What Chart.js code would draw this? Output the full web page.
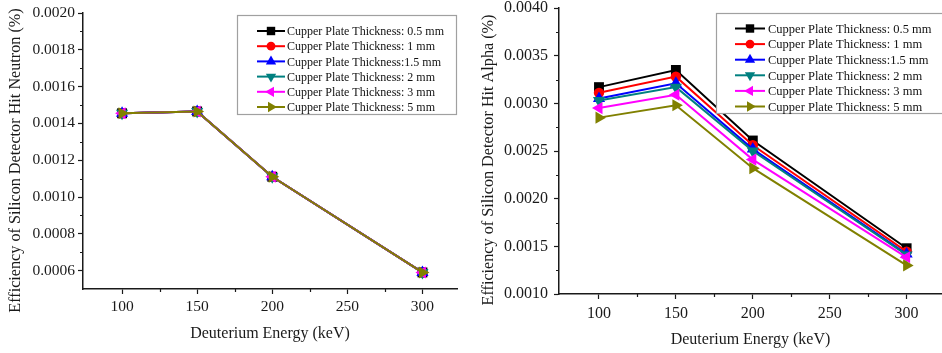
<!DOCTYPE html>
<html>
<head>
<meta charset="utf-8">
<title>Silicon detector hit efficiency</title>
<script src="https://cdn.jsdelivr.net/npm/chart.js@4.4.1/dist/chart.umd.min.js"></script>
<style>
  html, body { margin: 0; padding: 0; background: #fff; }
  .panel { position: absolute; top: 0; height: 353px; }
  #leftPanel  { left: 0;     width: 470px; }
  #rightPanel { left: 472px; width: 470px; }
</style>
</head>
<body>
<div class="panel" id="leftPanel"><canvas id="neutronChart"></canvas></div>
<div class="panel" id="rightPanel"><canvas id="alphaChart"></canvas></div>
<script>
// Deuterium energy (keV)
var energies = [100, 150, 200, 300];

var thicknessLabels = [
  'Cupper Plate Thickness: 0.5 mm',
  'Cupper Plate Thickness: 1 mm',
  'Cupper Plate Thickness:1.5 mm',
  'Cupper Plate Thickness: 2 mm',
  'Cupper Plate Thickness: 3 mm',
  'Cupper Plate Thickness: 5 mm'
];

// Neutron hit efficiency (%) per copper plate thickness
var neutron05 = [0.001455, 0.001465, 0.00111, 0.00059];
var neutron1  = [0.001455, 0.001465, 0.00111, 0.00059];
var neutron15 = [0.001455, 0.001465, 0.00111, 0.00059];
var neutron2  = [0.001455, 0.001465, 0.00111, 0.00059];
var neutron3  = [0.001455, 0.001465, 0.00111, 0.00059];
var neutron5  = [0.001455, 0.001465, 0.00111, 0.00059];

// Alpha hit efficiency (%) per copper plate thickness
var alpha05 = [0.00317, 0.00335, 0.00261, 0.00148];
var alpha1  = [0.00311, 0.00328, 0.00256, 0.001445];
var alpha15 = [0.00305, 0.00321, 0.00252, 0.00142];
var alpha2  = [0.00303, 0.00317, 0.00250, 0.00141];
var alpha3  = [0.00295, 0.00309, 0.00241, 0.001385];
var alpha5  = [0.00285, 0.00298, 0.00232, 0.00130];

// Tick values
var xTicks       = [100, 150, 200, 250, 300];
var xMinorTicks  = [125, 175, 225, 275];
var neutronTicks = [0.0006, 0.0008, 0.0010, 0.0012, 0.0014, 0.0016, 0.0018, 0.0020];
var neutronMinor = [0.0007, 0.0009, 0.0011, 0.0013, 0.0015, 0.0017, 0.0019];
var alphaTicks   = [0.0010, 0.0015, 0.0020, 0.0025, 0.0030, 0.0035, 0.0040];
var alphaMinor   = [0.00125, 0.00175, 0.00225, 0.00275, 0.00325, 0.00375];

var seriesColors = ['#000000', '#ff0000', '#0000ff', '#008080', '#ff00ff', '#808000'];
var markerStyles = ['rect', 'circle', 'triangle', 'triangle', 'triangle', 'triangle'];
var markerRotate = [0, 0, 0, 180, 270, 90];
var markerRadius = [7, 5.2, 7, 7, 7, 7];

var FONT = '"Liberation Serif", "Times New Roman", serif';
var AXIS = '#1a1a1a';

// Short outward ticks between the labelled ones
var minorTicks = {
  id: 'minorTicks',
  afterDraw: function(chart, args, o) {
    var ctx = chart.ctx, x = chart.scales.x, y = chart.scales.y;
    ctx.save();
    ctx.strokeStyle = AXIS;
    ctx.lineWidth = 1.2;
    ctx.beginPath();
    o.x.forEach(function(v) {
      var px = Math.round(x.getPixelForValue(v)) + 0.5;
      ctx.moveTo(px, x.top);
      ctx.lineTo(px, x.top + 3);
    });
    o.y.forEach(function(v) {
      var py = Math.round(y.getPixelForValue(v)) + 0.5;
      ctx.moveTo(y.right, py);
      ctx.lineTo(y.right - 3, py);
    });
    ctx.stroke();
    ctx.restore();
  }
};

// Rotated y-axis title, placed a little below the plot's centre
var yTitle = {
  id: 'yTitle',
  afterDraw: function(chart, args, o) {
    var ctx = chart.ctx;
    ctx.save();
    ctx.translate(o.x, o.y);
    ctx.rotate(-Math.PI / 2);
    ctx.font = o.fontSize + 'px ' + FONT;
    ctx.fillStyle = AXIS;
    ctx.textAlign = 'center';
    ctx.textBaseline = 'middle';
    ctx.fillText(o.text, 0, 0);
    ctx.restore();
  }
};

// Boxed legend with line + marker samples, drawn over the plot
var lineLegend = {
  id: 'lineLegend',
  afterDatasetsDraw: function(chart, args, o) {
    var ctx = chart.ctx;
    ctx.save();
    ctx.fillStyle = '#fff';
    ctx.fillRect(o.x, o.y, o.w, o.h);
    ctx.strokeStyle = '#a0a0a0';
    ctx.lineWidth = 1.2;
    ctx.strokeRect(o.x + 0.5, o.y + 0.5, o.w, o.h);
    ctx.font = o.fontSize + 'px ' + FONT;
    ctx.textBaseline = 'middle';
    ctx.textAlign = 'left';
    chart.data.datasets.forEach(function(ds, i) {
      var ry = o.firstRow + i * o.rowH;
      ctx.strokeStyle = ds.borderColor;
      ctx.lineWidth = 2;
      ctx.beginPath();
      ctx.moveTo(o.x0, ry);
      ctx.lineTo(o.x1, ry);
      ctx.stroke();
      ctx.fillStyle = ds.backgroundColor;
      Chart.helpers.drawPoint(ctx, {
        pointStyle: ds.pointStyle,
        rotation: ds.pointRotation,
        radius: ds.pointRadius * 0.85,
        borderWidth: 0
      }, (o.x0 + o.x1) / 2, ry);
      ctx.fillStyle = '#111';
      ctx.fillText(ds.label, o.textX, ry + 1);
    });
    ctx.restore();
  }
};

function makeDatasets(series) {
  return series.map(function(values, i) {
    return {
      label: thicknessLabels[i],
      data: energies.map(function(e, j) { return { x: e, y: values[j] }; }),
      borderColor: seriesColors[i],
      backgroundColor: seriesColors[i],
      borderWidth: 2,
      pointStyle: markerStyles[i],
      pointRotation: markerRotate[i],
      pointRadius: markerRadius[i],
      pointBorderWidth: 0,
      tension: 0,
      clip: false,
      order: series.length - i
    };
  });
}

function makeChart(canvasId, series, cfg) {
  new Chart(document.getElementById(canvasId), {
    type: 'line',
    data: { datasets: makeDatasets(series) },
    plugins: [minorTicks, yTitle, lineLegend],
    options: {
      responsive: true,
      maintainAspectRatio: false,
      animation: false,
      layout: { padding: cfg.padding, autoPadding: false },
      plugins: {
        legend: { display: false },
        tooltip: { enabled: false },
        minorTicks: { x: xMinorTicks, y: cfg.yMinor },
        yTitle: cfg.yTitle,
        lineLegend: cfg.legend
      },
      scales: {
        x: {
          type: 'linear',
          min: 74,
          max: 323,
          afterBuildTicks: function(s) { s.ticks = xTicks.map(function(v) { return { value: v }; }); },
          afterFit: function(s) { s.height = cfg.xHeight; s.paddingLeft = 0; s.paddingRight = 0; },
          ticks: {
            autoSkip: false,
            maxRotation: 0,
            padding: cfg.xTickPad,
            color: AXIS,
            font: { family: FONT, size: cfg.tickSize },
            callback: function(v) { return String(v); }
          },
          grid: { drawOnChartArea: false, tickLength: 5, tickWidth: 1.2, tickColor: AXIS },
          border: { color: AXIS, width: 1.5 },
          title: {
            display: true,
            text: 'Deuterium Energy (keV)',
            color: AXIS,
            font: { family: FONT, size: 16 },
            padding: { top: 4, bottom: cfg.xTitlePad }
          }
        },
        y: {
          min: cfg.yMin,
          max: cfg.yMax,
          afterBuildTicks: function(s) { s.ticks = cfg.yTicks.map(function(v) { return { value: v }; }); },
          afterFit: function(s) { s.width = cfg.yWidth; s.paddingTop = 0; s.paddingBottom = 0; },
          ticks: {
            padding: cfg.yTickPad,
            color: AXIS,
            font: { family: FONT, size: cfg.tickSize },
            callback: function(v) { return v.toFixed(4); }
          },
          grid: { drawOnChartArea: false, tickLength: 5, tickWidth: 1.2, tickColor: AXIS },
          border: { color: AXIS, width: 1.5 },
          title: { display: false }
        }
      }
    }
  });
}

makeChart('neutronChart',
  [neutron05, neutron1, neutron15, neutron2, neutron3, neutron5], {
    yTitle: { text: 'Efficiency of Silicon Detector Hit Neutron (%)', x: 16, y: 160.5, fontSize: 16.2 },
    yMin: 0.0005, yMax: 0.0020,
    yTicks: neutronTicks, yMinor: neutronMinor,
    padding: { top: 13, right: 13, bottom: 0, left: 0 },
    yWidth: 83, xHeight: 64,
    tickSize: 15.5, xTickPad: 4, yTickPad: 3, xTitlePad: 10,
    legend: { x: 237, y: 15, w: 219, h: 99, firstRow: 31, rowH: 15.2,
              x0: 257, x1: 285, textX: 287, fontSize: 12 }
  });

makeChart('alphaChart',
  [alpha05, alpha1, alpha15, alpha2, alpha3, alpha5], {
    yTitle: { text: 'Efficiency of Silicon Detector Hit Alpha (%)', x: 16.5, y: 160, fontSize: 16.2 },
    yMin: 0.0010, yMax: 0.0040,
    yTicks: alphaTicks, yMinor: alphaMinor,
    padding: { top: 8, right: 0, bottom: 0, left: 0 },
    yWidth: 87, xHeight: 59,
    tickSize: 16, xTickPad: 5, yTickPad: 6, xTitlePad: 4,
    legend: { x: 244, y: 13, w: 230, h: 100, firstRow: 28.5, rowH: 15.6,
              x0: 263, x1: 293, textX: 296, fontSize: 12.5 }
  });
</script>
</body>
</html>
